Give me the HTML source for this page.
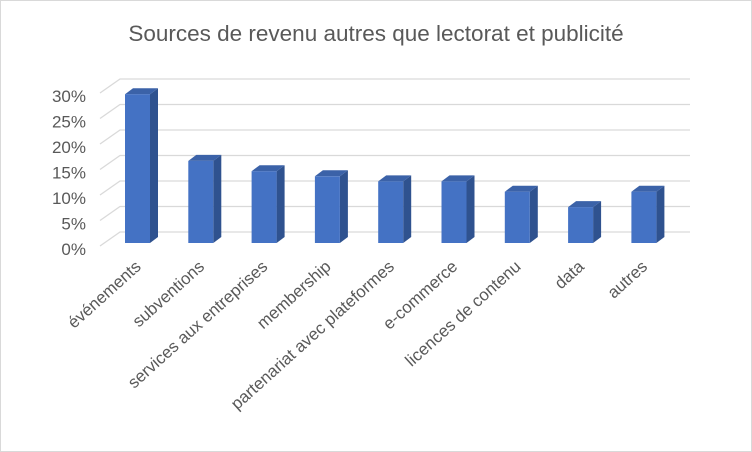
<!DOCTYPE html>
<html><head><meta charset="utf-8"><style>
body{margin:0;background:#fff}
svg{display:block;font-family:"Liberation Sans",sans-serif}
</style></head><body>
<svg width="752" height="452" viewBox="0 0 752 452">
<rect x="0.5" y="0.5" width="751" height="451" fill="#fff" stroke="#d9d9d9"/>
<text x="376" y="41" text-anchor="middle" font-size="22.5" fill="#595959">Sources de revenu autres que lectorat et publicité</text>
<g stroke="#d9d9d9" stroke-width="1.3" fill="none">
<path d="M100 246L120 232H690M100 220.5L120 206.5H690M100 195L120 181H690M100 169.5L120 155.5H690M100 144L120 130H690M100 118.5L120 104.5H690M100 93L120 79H690"/>
</g>
<g font-size="17" fill="#595959" text-anchor="end">
<text x="86" y="255">0%</text><text x="86" y="229.5">5%</text><text x="86" y="204">10%</text><text x="86" y="178.5">15%</text><text x="86" y="153">20%</text><text x="86" y="127.5">25%</text><text x="86" y="102">30%</text>
</g>
<g transform="translate(125,0)"><path d="M25 94.2L33 88.2V237L25 243Z" fill="#2f528f"/><path d="M0 94.2L8 88.2H33L25 94.2Z" fill="#3b62a8"/><rect x="0" y="94.2" width="25" height="148.8" fill="#4472c4"/></g>
<g transform="translate(188.3,0)"><path d="M25 160.9L33 154.9V237L25 243Z" fill="#2f528f"/><path d="M0 160.9L8 154.9H33L25 160.9Z" fill="#3b62a8"/><rect x="0" y="160.9" width="25" height="82.1" fill="#4472c4"/></g>
<g transform="translate(251.6,0)"><path d="M25 171.2L33 165.2V237L25 243Z" fill="#2f528f"/><path d="M0 171.2L8 165.2H33L25 171.2Z" fill="#3b62a8"/><rect x="0" y="171.2" width="25" height="71.8" fill="#4472c4"/></g>
<g transform="translate(314.9,0)"><path d="M25 176.3L33 170.3V237L25 243Z" fill="#2f528f"/><path d="M0 176.3L8 170.3H33L25 176.3Z" fill="#3b62a8"/><rect x="0" y="176.3" width="25" height="66.7" fill="#4472c4"/></g>
<g transform="translate(378.2,0)"><path d="M25 181.4L33 175.4V237L25 243Z" fill="#2f528f"/><path d="M0 181.4L8 175.4H33L25 181.4Z" fill="#3b62a8"/><rect x="0" y="181.4" width="25" height="61.6" fill="#4472c4"/></g>
<g transform="translate(441.5,0)"><path d="M25 181.4L33 175.4V237L25 243Z" fill="#2f528f"/><path d="M0 181.4L8 175.4H33L25 181.4Z" fill="#3b62a8"/><rect x="0" y="181.4" width="25" height="61.6" fill="#4472c4"/></g>
<g transform="translate(504.8,0)"><path d="M25 191.7L33 185.7V237L25 243Z" fill="#2f528f"/><path d="M0 191.7L8 185.7H33L25 191.7Z" fill="#3b62a8"/><rect x="0" y="191.7" width="25" height="51.3" fill="#4472c4"/></g>
<g transform="translate(568.1,0)"><path d="M25 207.1L33 201.1V237L25 243Z" fill="#2f528f"/><path d="M0 207.1L8 201.1H33L25 207.1Z" fill="#3b62a8"/><rect x="0" y="207.1" width="25" height="35.9" fill="#4472c4"/></g>
<g transform="translate(631.4,0)"><path d="M25 191.7L33 185.7V237L25 243Z" fill="#2f528f"/><path d="M0 191.7L8 185.7H33L25 191.7Z" fill="#3b62a8"/><rect x="0" y="191.7" width="25" height="51.3" fill="#4472c4"/></g>
<g font-size="16.8" fill="#595959" text-anchor="end">
<text transform="translate(142,268) rotate(-42)">événements</text>
<text transform="translate(205.3,268) rotate(-42)">subventions</text>
<text transform="translate(268.6,268) rotate(-42)">services aux entreprises</text>
<text transform="translate(331.9,268) rotate(-42)">membership</text>
<text transform="translate(395.2,268) rotate(-42)">partenariat avec plateformes</text>
<text transform="translate(458.5,268) rotate(-42)">e-commerce</text>
<text transform="translate(521.8,268) rotate(-42)">licences de contenu</text>
<text transform="translate(585.1,268) rotate(-42)">data</text>
<text transform="translate(648.4,268) rotate(-42)">autres</text>
</g>
</svg>
</body></html>
